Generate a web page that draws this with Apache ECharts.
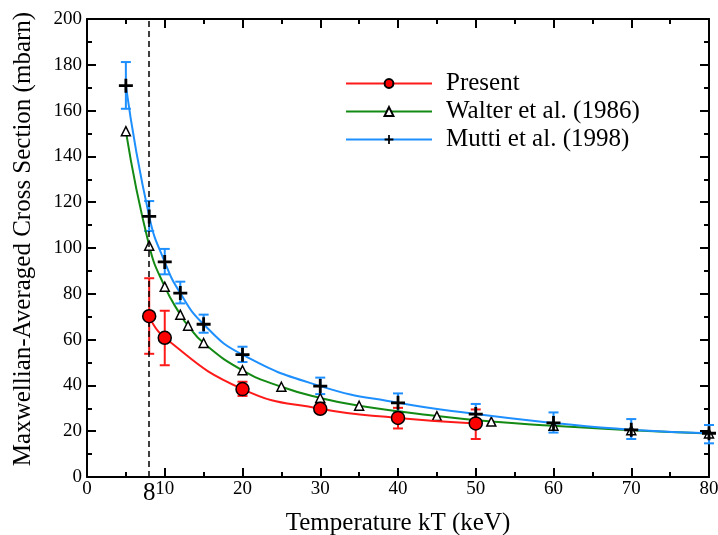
<!DOCTYPE html>
<html>
<head>
<meta charset="utf-8">
<script src="https://cdn.jsdelivr.net/npm/echarts@6/dist/echarts.min.js"></script>
<style>
html, body { margin: 0; padding: 0; background: #fff; }
#main { width: 718px; height: 535px; }
</style>
</head>
<body>
<div id="main"></div>
<script>
// Present
var presentX = [8, 10, 20, 30, 40, 50];
var presentY = [70.2, 60.8, 38.4, 29.8, 25.8, 23.4];
var presentLow = [53.8, 48.8, 35.4, 28.0, 21.2, 16.6];
var presentHigh = [86.8, 72.6, 41.6, 32.0, 30.2, 29.5];

// Walter et al. (1986)
var walterX = [5, 8, 10, 12, 13, 15, 20, 25, 30, 35, 45, 52, 60, 70, 80];
var walterY = [151, 101, 83.1, 70.9, 66.1, 58.5, 46.6, 39.4, 34.5, 31.1, 26.6, 24.2, 22.4, 20.4, 19];

// Mutti et al. (1998)
var muttiX = [5, 8, 10, 12, 15, 20, 30, 40, 50, 60, 70, 80];
var muttiY = [170.9, 113.8, 93.9, 80.3, 66.7, 53.4, 39.7, 32.4, 27.5, 23.6, 20.6, 19.1];
var muttiLow = [160.8, 107.4, 88.5, 75.8, 63.0, 50.2, 36.2, 28.5, 23.0, 19.4, 16.6, 14.7];
var muttiHigh = [181.2, 120.5, 99.6, 85.3, 70.9, 56.9, 43.4, 36.5, 31.9, 28.2, 25.3, 22.7];

var markerT = 8;
var xTicks = [0, 10, 20, 30, 40, 50, 60, 70, 80];
var yTicks = [0, 20, 40, 60, 80, 100, 120, 140, 160, 180, 200];

var serif = '"Liberation Serif", "DejaVu Serif", serif';
var cRed = '#ff1a1a', cGreen = '#138a13', cBlue = '#1e8fff';

function pairs(xs, ys) {
    return xs.map(function(x, i) { return [x, ys[i]]; });
}
function errRows(xs, lo, hi) {
    return xs.map(function(x, i) { return [x, lo[i], hi[i]]; });
}
function errorBars(name, rows, color) {
    return {
        name: name + ' err',
        type: 'custom',
        data: rows,
        z: 2,
        silent: true,
        renderItem: function(params, api) {
            var top = api.coord([api.value(0), api.value(2)]);
            var bot = api.coord([api.value(0), api.value(1)]);
            var w = 5;
            var st = { stroke: color, lineWidth: 2 };
            return {
                type: 'group',
                children: [
                    { type: 'line', shape: { x1: top[0], y1: top[1], x2: bot[0], y2: bot[1] }, style: st },
                    { type: 'line', shape: { x1: top[0] - w, y1: top[1], x2: top[0] + w, y2: top[1] }, style: st },
                    { type: 'line', shape: { x1: bot[0] - w, y1: bot[1], x2: bot[0] + w, y2: bot[1] }, style: st }
                ]
            };
        }
    };
}

var plusPath = 'path://M4,0h2v4h4v2h-4v4h-2v-4h-4v-2h4z';

var axisCommon = {
    type: 'value',
    axisLine: { show: true, onZero: false, lineStyle: { color: '#000', width: 2 } },
    axisTick: { show: true, inside: true, length: 9, lineStyle: { color: '#000', width: 2 } },
    minorTick: { show: true, splitNumber: 2, length: 5, lineStyle: { color: '#000', width: 2 } },
    splitLine: { show: false }
};

var chart = echarts.init(document.getElementById('main'));
chart.setOption({
    animation: false,
    backgroundColor: '#fff',
    grid: { left: 87, right: 9, top: 19, bottom: 58, outerBoundsMode: 'none', containLabel: false },
    legend: {
        orient: 'vertical',
        left: 340,
        top: 66,
        itemWidth: 86,
        itemHeight: 11,
        itemGap: 3,
        data: ['Present', 'Walter et al. (1986)', 'Mutti et al. (1998)'],
        textStyle: { fontFamily: serif, fontSize: 25, color: '#000', padding: [0, 0, 0, 9] }
    },
    xAxis: [
        Object.assign({}, axisCommon, {
            min: 0, max: 80, interval: 10, position: 'bottom',
            name: 'Temperature kT (keV)',
            nameLocation: 'middle',
            nameGap: 34,
            nameTextStyle: { fontFamily: serif, fontSize: 25, color: '#000' },
            axisLabel: { fontFamily: serif, fontSize: 19, color: '#000', margin: 3,
                formatter: function(v) { return xTicks.indexOf(v) >= 0 ? String(v) : ''; } }
        }),
        Object.assign({}, axisCommon, {
            min: 0, max: 80, interval: 10, position: 'top',
            axisLabel: { show: false }
        })
    ],
    yAxis: [
        Object.assign({}, axisCommon, {
            min: 0, max: 200, interval: 20, position: 'left',
            name: 'Maxwellian-Averaged Cross Section (mbarn)',
            nameLocation: 'middle',
            nameGap: 51,
            nameTextStyle: { fontFamily: serif, fontSize: 25, color: '#000', padding: [0, 0, 0, 18] },
            axisLabel: { fontFamily: serif, fontSize: 19, color: '#000', margin: 5,
                formatter: function(v) { return yTicks.indexOf(v) >= 0 ? String(v) : ''; } }
        }),
        Object.assign({}, axisCommon, {
            min: 0, max: 200, interval: 20, position: 'right',
            axisLabel: { show: false }
        })
    ],
    series: [
        errorBars('Present', errRows(presentX, presentLow, presentHigh), cRed),
        errorBars('Mutti', errRows(muttiX, muttiLow, muttiHigh), cBlue),
        {
            name: 'Walter et al. (1986)',
            type: 'line',
            data: pairs(walterX, walterY),
            smooth: 0.5,
            z: 3,
            lineStyle: { color: cGreen, width: 2 },
            itemStyle: { color: '#fff', borderColor: '#000', borderWidth: 1.5 },
            symbol: 'triangle',
            symbolSize: 9,
            showAllSymbol: true,
            markLine: {
                silent: true,
                symbol: 'none',
                lineStyle: { color: '#000', type: [6, 4], width: 1.5 },
                label: { show: true, position: 'start', formatter: String(markerT),
                    fontFamily: serif, fontSize: 25, color: '#000', distance: 4 },
                data: [{ xAxis: markerT }]
            }
        },
        {
            name: 'Mutti et al. (1998)',
            type: 'line',
            data: pairs(muttiX, muttiY),
            smooth: 0.5,
            z: 4,
            lineStyle: { color: cBlue, width: 2 },
            itemStyle: { color: '#000' },
            symbol: plusPath,
            symbolSize: 14,
            showAllSymbol: true
        },
        {
            name: 'Present',
            type: 'line',
            data: pairs(presentX, presentY),
            smooth: 0.5,
            z: 5,
            lineStyle: { color: cRed, width: 2 },
            itemStyle: { color: '#ff0000', borderColor: '#000', borderWidth: 1.5 },
            symbol: 'circle',
            symbolSize: 13,
            showAllSymbol: true
        }
    ]
});
</script>
</body>
</html>
